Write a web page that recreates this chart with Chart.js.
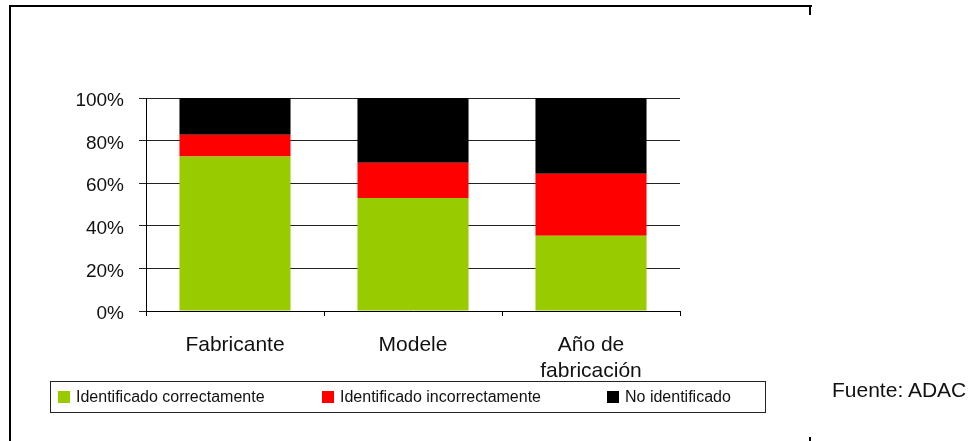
<!DOCTYPE html>
<html lang="es">
<head>
<meta charset="utf-8">
<title>Identificación</title>
<script src="https://cdn.jsdelivr.net/npm/chart.js@4/dist/chart.umd.min.js"></script>
<style>
  html, body { margin: 0; padding: 0; background: #fff; }
  body { width: 971px; height: 441px; position: relative; overflow: hidden; font-family: "Liberation Sans", Arial, sans-serif; }
  #grafico { position: absolute; left: 0; top: 0; }
  .marco { position: absolute; left: 9px; top: 5px; width: 801px; height: 460px; border-top: 2px solid #000; border-left: 2px solid #000; }
  .tic { position: absolute; background: #000; width: 2px; }
  #leyenda { position: absolute; left: 50px; top: 381px; width: 714px; height: 30px; border: 1px solid #222;
             display: flex; align-items: center; font-size: 16px; color: #111; }
  #leyenda .item { display: flex; align-items: center; }
  #leyenda .cuadro { width: 12px; height: 12px; margin-right: 6px; }
  #fuente { position: absolute; left: 832px; top: 378px; font-size: 21px; color: #111; }
</style>
</head>
<body>
<div class="marco"></div>
<div class="tic" style="left:809px; top:5px; height:10px;"></div>
<div class="tic" style="left:809px; top:437px; height:4px;"></div>
<canvas id="grafico" width="971" height="441"></canvas>
<div id="leyenda"></div>
<div id="fuente">Fuente: ADAC</div>
<script>
// Reconocimiento de vehículos (porcentaje)
const categorias = ["Fabricante", "Modele", ["Año de", "fabricación"]];
const correcto = [72.5, 53.1, 35.3];
const incorrecto = [10.3, 16.5, 29.1];
const noIdentificado = [17.2, 30.4, 35.6];
const yTicks = [0, 20, 40, 60, 80, 100];

const series = [
  { label: "Identificado correctamente", data: correcto, color: "#99CC00" },
  { label: "Identificado incorrectamente", data: incorrecto, color: "#FF0000" },
  { label: "No identificado", data: noIdentificado, color: "#000000" },
];

const fuente = "'Liberation Sans', Arial, sans-serif";

const chart = new Chart(document.getElementById("grafico"), {
  type: "bar",
  data: {
    labels: categorias,
    datasets: series.map(s => ({
      label: s.label,
      data: s.data,
      backgroundColor: s.color,
      borderWidth: 0,
      categoryPercentage: 1,
      barPercentage: 0.624,
    })),
  },
  options: {
    responsive: false,
    animation: false,
    events: [],
    layout: { padding: { left: 0, right: 291, top: 98, bottom: 50 } },
    plugins: { legend: { display: false }, tooltip: { enabled: false } },
    scales: {
      x: {
        stacked: true,
        grid: { offset: true, drawOnChartArea: false, color: "#000", tickLength: 5 },
        border: { color: "#000" },
        ticks: { color: "#111", font: { family: fuente, size: 21 }, padding: 17, maxRotation: 0, autoSkip: false },
        afterFit: s => { s.height = 80; },
      },
      y: {
        stacked: true,
        min: 0,
        max: 100,
        afterBuildTicks: s => { s.ticks = yTicks.map(v => ({ value: v })); },
        grid: { color: "#222", tickLength: 7 },
        border: { color: "#000" },
        ticks: { color: "#111", font: { family: fuente, size: 19 }, padding: 15, labelOffset: 3, callback: v => v + "%" },
        afterFit: s => { s.width = 146; },
      },
    },
  },
});

// Leyenda en HTML a partir de los datasets
const anchos = [264, 285, null];
document.getElementById("leyenda").innerHTML = chart.data.datasets
  .map((d, i) => `<div class="item" style="${anchos[i] ? "width:" + anchos[i] + "px" : ""}${i === 0 ? ";margin-left:7px" : ""}"><span class="cuadro" style="background:${d.backgroundColor}"></span>${d.label}</div>`)
  .join("");
</script>
</body>
</html>
